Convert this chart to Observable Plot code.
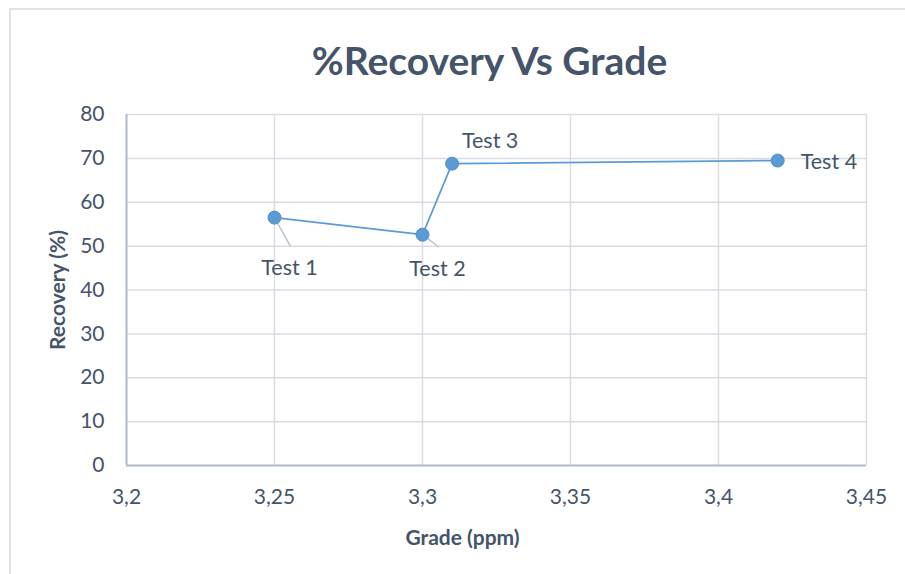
<!DOCTYPE html>
<html>
<head>
<meta charset="utf-8">
<script src="https://cdn.jsdelivr.net/npm/d3@7"></script>
<script src="https://cdn.jsdelivr.net/npm/@observablehq/plot@0.6"></script>
<style>
  html, body { margin: 0; padding: 0; background: #fff; }
  #wrap { position: relative; width: 905px; height: 574px; overflow: hidden; }
  #border { position: absolute; left: 9px; top: 8px; width: 1000px; height: 1000px;
            border-left: 2px solid #dfe3e8; border-top: 2px solid #dfe3e8; }
  svg { position: absolute; left: 0; top: 0; }
</style>
</head>
<body>
<div id="wrap"><div id="border"></div></div>
<script>
// ---- data ----
const tests = ["Test 1", "Test 2", "Test 3", "Test 4"];
const grade = [3.25, 3.30, 3.31, 3.42];
const recovery = [56.5, 52.6, 68.8, 69.5];
const xTicks = [3.2, 3.25, 3.3, 3.35, 3.4, 3.45];
const yTicks = [0, 10, 20, 30, 40, 50, 60, 70, 80];
const title = "%Recovery Vs Grade";
const xTitle = "Grade (ppm)";
const yTitle = "Recovery (%)";

const data = tests.map((t, i) => ({test: t, grade: grade[i], recovery: recovery[i]}));

// label placement (pixel offsets, style only)
const labelStyle = [
  {dx: 15, dy: 51, anchor: "middle", leader: {len: 33, rot: 151}},
  {dx: 15, dy: 34, anchor: "middle", leader: {len: 20, rot: 127}},
  {dx: 38, dy: -23, anchor: "middle", leader: null},
  {dx: 23, dy: 2, anchor: "start", leader: null}
];

const txt = "#44546a";
const font = "Lato, 'Open Sans', sans-serif";
const blue = "#5b9bd5";

const labelMarks = data.map((d, i) => Plot.text([d], {
  x: "grade", y: "recovery", text: "test",
  dx: labelStyle[i].dx, dy: labelStyle[i].dy, textAnchor: labelStyle[i].anchor,
  fill: txt, fontSize: 21.5
}));
const leaderMarks = data.map((d, i) => labelStyle[i].leader ? Plot.vector([d], {
  x: "grade", y: "recovery", length: labelStyle[i].leader.len, rotate: labelStyle[i].leader.rot,
  anchor: "start", stroke: "#bfc3c8", strokeWidth: 1.5,
  shape: {draw(ctx, l) { ctx.moveTo(0, 0); ctx.lineTo(0, -l); }}
}) : null).filter(Boolean);

const fmt = d => String(d).replace(".", ",");

const chart = Plot.plot({
  width: 905,
  height: 574,
  marginLeft: 126,
  marginRight: 39,
  marginTop: 114,
  marginBottom: 109,
  style: {fontFamily: font, background: "transparent", color: txt},
  x: {domain: [3.2, 3.45], ticks: xTicks, tickFormat: fmt},
  y: {domain: [0, 80], ticks: yTicks},
  marks: [
    Plot.gridX(xTicks, {stroke: "#d9dde3", strokeOpacity: 1, strokeWidth: 1.5}),
    Plot.gridY(yTicks, {stroke: "#d9dde3", strokeOpacity: 1, strokeWidth: 1.5}),
    Plot.ruleY([0], {stroke: "#b4bccb", strokeWidth: 2}),
    Plot.ruleX([3.2], {stroke: "#b4bccb", strokeWidth: 2}),
    Plot.axisX(xTicks, {tickSize: 0, tickPadding: 24, fontSize: 21, label: null, fill: txt, tickFormat: fmt}),
    Plot.axisY(yTicks, {tickSize: 0, tickPadding: 22, fontSize: 21, label: null, fill: txt}),
    ...leaderMarks,
    Plot.line(data, {x: "grade", y: "recovery", stroke: blue, strokeWidth: 1.75}),
    Plot.dot(data, {x: "grade", y: "recovery", r: 6.5, fill: blue, stroke: "#4f8fcc", strokeWidth: 1}),
    ...labelMarks,
    Plot.text([title], {frameAnchor: "top", lineAnchor: "middle", dy: -52, dx: -7, fontSize: 39, fontWeight: "bold", fill: txt}),
    Plot.text([xTitle], {frameAnchor: "bottom", lineAnchor: "middle", dy: 73, dx: -34, fontSize: 21, fontWeight: "bold", fill: txt}),
    Plot.text([yTitle], {frameAnchor: "left", textAnchor: "middle", lineAnchor: "middle", dx: -68, dy: 0, rotate: -90, fontSize: 21, fontWeight: "bold", fill: txt})
  ]
});
document.getElementById("wrap").appendChild(chart);
</script>
</body>
</html>
